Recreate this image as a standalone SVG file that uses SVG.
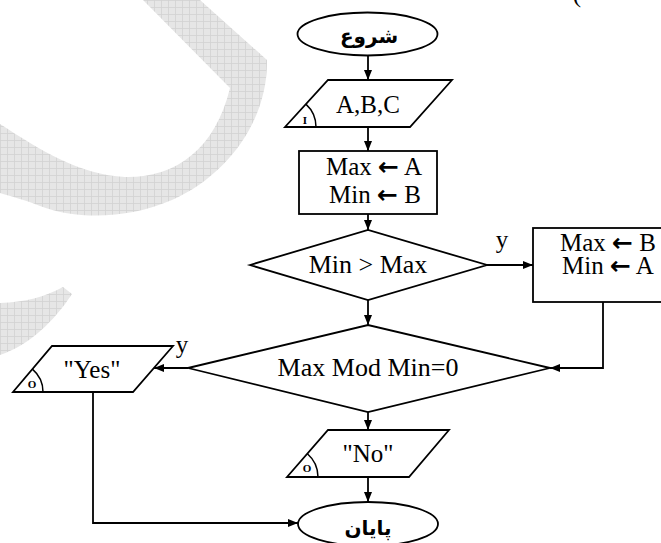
<svg xmlns="http://www.w3.org/2000/svg" width="661" height="543" viewBox="0 0 661 543">
<defs>
<pattern id="grid" width="7" height="7" patternUnits="userSpaceOnUse">
<rect width="7" height="7" fill="#e6e6e6"/>
<path d="M0,0.5 H7 M0.5,0 V7" stroke="#d2d2d2" stroke-width="0.8"/>
</pattern>
<marker id="ah" markerWidth="10" markerHeight="8" refX="10" refY="4" orient="auto" markerUnits="userSpaceOnUse">
<path d="M0,0 L10,4 L0,8 Z" fill="#000"/>
</marker>
<style>
.s{fill:#fff;stroke:#000;stroke-width:1.8}
.c{fill:none;stroke:#000;stroke-width:1.8;marker-end:url(#ah)}
.a{fill:none;stroke:#000;stroke-width:1.5}
.t{font-family:"Liberation Serif","Times New Roman",serif;font-size:25px;fill:#000;text-anchor:middle}
.d{font-size:26px}
.fa{font-family:"DejaVu Sans",sans-serif;font-weight:bold;font-size:20px;fill:#000;text-anchor:middle}
.k{font-family:"Liberation Serif",serif;font-weight:bold;font-size:11px;fill:#000;text-anchor:middle}
.ar{font-family:"DejaVu Sans",sans-serif;font-weight:bold}
</style>
</defs>
<rect width="661" height="543" fill="#fff"/>
<g id="watermark" fill="url(#grid)">
<path d="M143,0 L200,0 L267,60 C268,120 228,175 172,200 C130,218 80,221 40,206 C25,200 10,196 0,193 L0,124 C40,150 80,175 125,177 C175,178 215,150 230,88 Z"/>
<path d="M0,303 C25,302 45,297 63,287 L72,294 C55,320 30,345 0,355 Z"/>
</g>
<text class="t" x="577" y="2">(</text>
<g id="connectors">
<line class="c" x1="368" y1="56" x2="368" y2="80"/>
<line class="c" x1="368" y1="127" x2="368" y2="151"/>
<line class="c" x1="368" y1="214" x2="368" y2="230"/>
<line class="c" x1="487" y1="265" x2="533" y2="265"/>
<line class="c" x1="368" y1="300" x2="368" y2="325"/>
<polyline class="c" points="603,302 603,368 550,368"/>
<line class="c" x1="188" y1="368" x2="154" y2="368"/>
<line class="c" x1="368" y1="412" x2="368" y2="430"/>
<line class="c" x1="368" y1="477" x2="368" y2="502"/>
<polyline class="c" points="93,392 93,523 298,523"/>
<text class="t" x="502" y="248">y</text>
<text class="t" x="182" y="353">y</text>
</g>
<g id="start">
<ellipse class="s" cx="367.5" cy="34" rx="70" ry="21.5"/>
<text class="fa" x="369" y="43">شروع</text>
</g>
<g id="input">
<polygon class="s" points="328,80 452,80 410,127 285,127"/>
<path class="a" d="M316,127 A31,31 0 0 0 305.9,104.1"/>
<text class="k" x="305" y="124">I</text>
<text class="t" x="368" y="113">A,B,C</text>
</g>
<g id="init">
<rect class="s" x="299" y="151" width="138" height="63"/>
<text class="t" x="374" y="175">Max <tspan class="ar">←</tspan> A</text>
<text class="t" x="375" y="203">Min <tspan class="ar">←</tspan> B</text>
</g>
<g id="cond1">
<polygon class="s" points="250,265 368,230 487,265 368,300"/>
<text class="t d" x="368" y="273">Min &gt; Max</text>
</g>
<g id="swap">
<rect class="s" x="533" y="228" width="140" height="74"/>
<text class="t" x="608" y="251">Max <tspan class="ar">←</tspan> B</text>
<text class="t" x="608" y="274">Min <tspan class="ar">←</tspan> A</text>
</g>
<g id="cond2">
<polygon class="s" points="188,368 368,325 550,368 368,412"/>
<text class="t d" x="368" y="376">Max Mod Min=0</text>
</g>
<g id="yes">
<polygon class="s" points="52,346 173,346 133,392 13,392"/>
<path class="a" d="M43,392 A30,30 0 0 0 32.4,369.1"/>
<text class="k" x="32" y="388">O</text>
<text class="t" x="92" y="378">"Yes"</text>
</g>
<g id="no">
<polygon class="s" points="328,430 449,430 409,477 287,477"/>
<path class="a" d="M318,477 A31,31 0 0 0 307.4,453.7"/>
<text class="k" x="307" y="472">O</text>
<text class="t" x="368" y="462">"No"</text>
</g>
<g id="end">
<ellipse class="s" cx="368" cy="524" rx="70" ry="22"/>
<text class="fa" x="368" y="535">پایان</text>
</g>
</svg>
